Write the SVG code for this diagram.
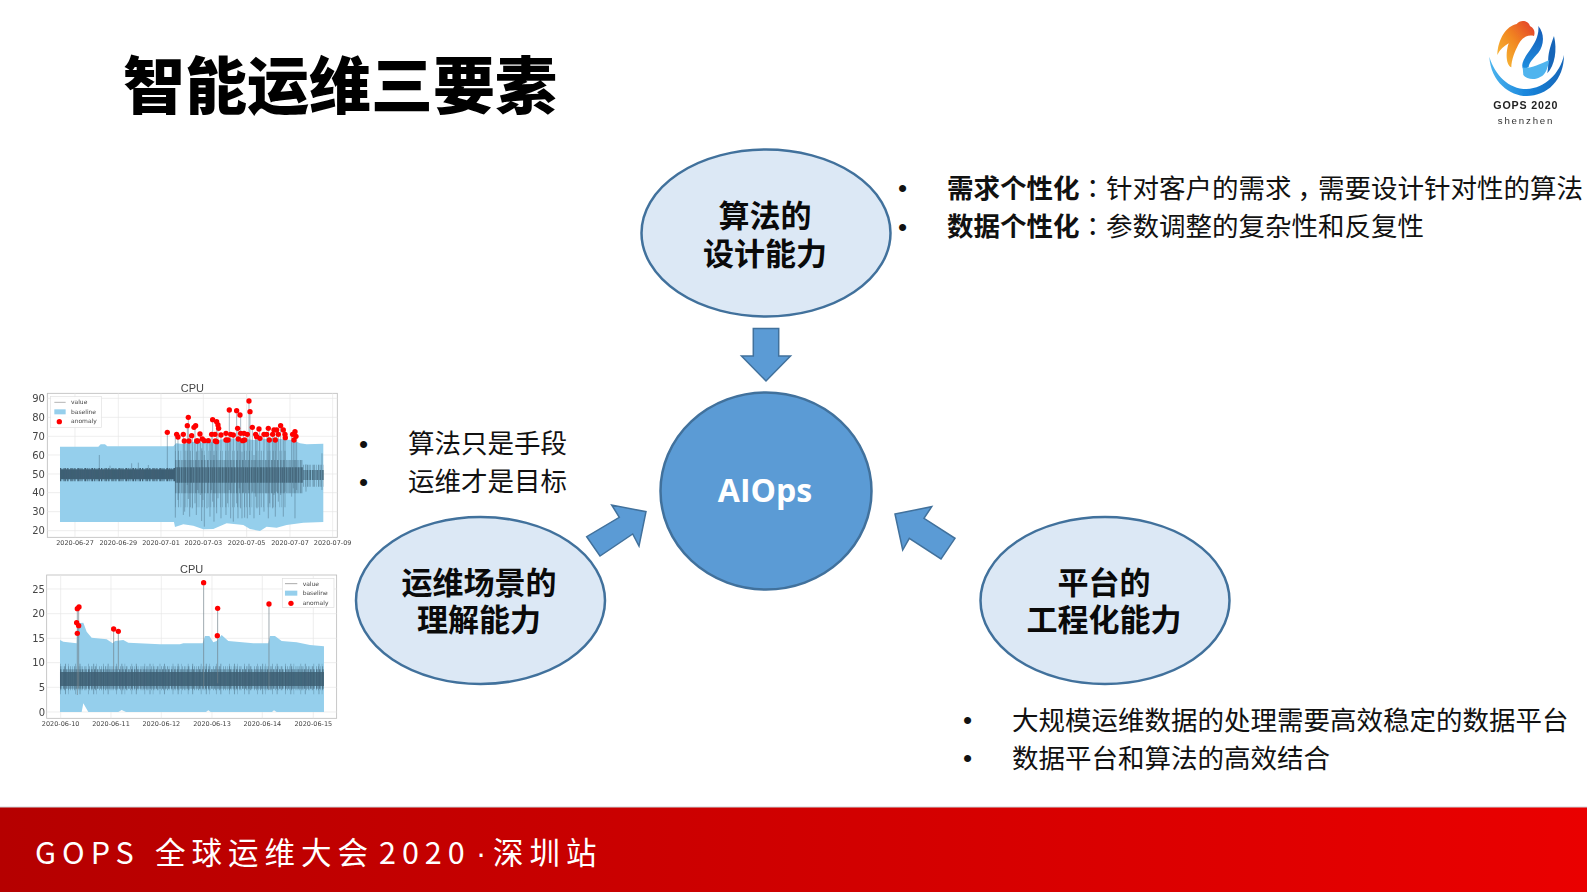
<svg xmlns="http://www.w3.org/2000/svg" width="1587" height="892" viewBox="0 0 1587 892">
<style>
text{font-family:"Noto Sans CJK SC","Noto Sans",sans-serif;fill:#111}
.b{font-size:26.5px}
.bu{font-size:26px;font-family:"Liberation Sans",sans-serif;fill:#111}
.n{font-size:31px;font-weight:700;text-anchor:middle;fill:#0a0a0a}
.tc{font-family:"Noto Sans CJK TC",sans-serif}
.el{fill:#dce8f5;stroke:#41719c;stroke-width:2.5}
.ar{fill:#5b9bd5;stroke:#41719c;stroke-width:1.5}
.grid{stroke:#e6e6e6;stroke-width:2;fill:none}
.fr{fill:#fff;stroke:#bdbdbd;stroke-width:2.5}
.band{fill:#95cfec}
.core{fill:none;stroke:#3f6074}
.v{stroke:#4a6b80;stroke-width:1.8;fill:none;opacity:.8}
.st{stroke:#6f7f88;stroke-width:2.5;fill:none;opacity:.8}
.c text{font-family:"Liberation Sans","DejaVu Sans",sans-serif;fill:#444}
.c .yt,.c .xt,.c .lg{font-family:"DejaVu Sans",sans-serif}
.yt{font-size:30px;text-anchor:end}
.xt{font-size:19.5px;text-anchor:middle}
.tt{font-size:33px;text-anchor:middle}
.lg{font-size:18px}
.dot{fill:#f00}
</style>
<defs>
<linearGradient id="bar" x1="0" x2="1" y1="0" y2="0"><stop offset="0" stop-color="#b50000"/><stop offset=".5" stop-color="#d00000"/><stop offset="1" stop-color="#ea0000"/></linearGradient>
<linearGradient id="lgb" x1="0" x2="1" y1="0" y2="0"><stop offset="0" stop-color="#4db5ee"/><stop offset=".5" stop-color="#1a86dc"/><stop offset="1" stop-color="#1565b8"/></linearGradient>
<linearGradient id="lgo" x1="0" x2="1" y1="1" y2="0"><stop offset="0" stop-color="#f8c23a"/><stop offset=".5" stop-color="#f28a22"/><stop offset="1" stop-color="#e23a2c"/></linearGradient>
<linearGradient id="lgs" x1="0" x2="0" y1="0" y2="1"><stop offset="0" stop-color="#1559b5"/><stop offset="1" stop-color="#1e8fe0"/></linearGradient>
<filter id="soft" x="-2%" y="-2%" width="104%" height="104%"><feGaussianBlur stdDeviation="2"/></filter>
</defs>

<rect width="1587" height="892" fill="#fff"/>

<text id="title" x="123" y="109" font-size="62" font-weight="900" style="fill:#000">智能运维三要素</text>

<g id="logo" transform="translate(1470 10) scale(.3333)" filter="url(#soft)">
<path d="M58 140C62 215 120 258 170 258C232 258 282 210 282 135C270 190 225 235 170 237C115 237 75 195 58 140Z" fill="url(#lgb)"/>
<path d="M82 135C84 85 110 48 140 42C150 28 175 30 180 48C195 55 195 70 192 78C172 72 155 85 146 102C134 125 124 150 124 172C108 165 106 130 116 100C102 108 90 118 82 135Z" fill="url(#lgo)"/>
<path d="M205 48C225 72 222 105 205 128C190 145 176 158 176 172L160 178C150 165 165 140 180 120C195 100 208 75 205 48Z" fill="url(#lgs)"/>
<path d="M252 78C262 120 255 165 232 190C240 150 225 150 252 78Z" fill="#1565b8"/>
<path d="M158 172C175 178 205 165 238 150C232 180 225 195 212 200C195 212 170 208 160 195Z" fill="#4fb4ee"/>
<text x="70" y="297" font-size="32" font-weight="700" letter-spacing="2.5" style="font-family:'Liberation Sans',sans-serif;fill:#222">GOPS 2020</text>
<text x="168" y="342" font-size="29" letter-spacing="5.5" text-anchor="middle" style="font-family:'Liberation Sans',sans-serif;fill:#333">shenzhen</text>
</g>

<g id="chart-top" class="c" transform="translate(20 375) scale(.3333)" filter="url(#soft)">
<rect class="fr" x="82" y="55" width="870" height="432"/>
<path class="grid" d="M165 55V487M295 55V487M423 55V487M550 55V487M680 55V487M810 55V487M938 55V487M82 70H952M82 127H952M82 184H952M82 240H952M82 297H952M82 353H952M82 410H952M82 467H952"/>
<path class="band" d="M120 215H235L242 208H255L262 214H460L468 205L490 207L520 200L560 204L610 192L660 190L700 195L760 190L820 196L840 205L860 208L910 206V441L850 443L800 450L770 458L740 455L720 468L690 462L670 450L620 445L580 462L550 463L520 452L490 448L465 456L462 441H120Z"/>
<path class="core" stroke-width="30" d="M120 298H465"/>
<path class="core" stroke-width="40" stroke-dasharray="3 2 1.5 4 2 1 4 3" d="M120 299H465"/>
<path class="v" d="M238 240V285M270 272V285M335 265V285M355 263V285M385 270V285M442 172V285"/>
<path class="core" stroke-width="46" stroke-dasharray="5 1 3 1 6 1.5" opacity=".85" d="M465 300H850"/>
<path class="core" stroke-width="100" stroke-dasharray="2.5 1.5 1.5 2.5 3.5 1 2 3" opacity=".6" d="M465 305H850"/>
<path class="core" stroke-width="170" stroke-dasharray="2 7 3 5 1.5 11 2 4" opacity=".4" d="M465 312H800"/>
<path class="core" stroke-width="30" stroke-dasharray="4 2 3 1" opacity=".8" d="M850 300H912"/>
<path class="core" stroke-width="66" stroke-dasharray="2 3 1.5 5 3 2" opacity=".6" d="M850 302H912"/>
<path class="v" d="M466 178V428M474 186V375M490 180V420M494 198V410M502 152V330M505 127V372M509 198V425M517 182V400M525 152V385M529 230V420M533 198V345M541 177V360M545 220V438M549 192V375M553 240V455M561 197V400M570 200V425M574 178V345M578 134V380M582 240V440M586 198V355M590 140V415M594 150V370M603 180V430M618 175V420M623 195V385M628 105V345M632 178V430M640 180V440M650 107V385M654 160V430M658 192V340M662 120V400M666 230V430M670 175V352M674 195V428M682 178V430M687 78V345M690 110V420M697 157V350M702 240V430M707 178V365M711 185V400M719 162V420M732 178V410M741 178V355M745 160V430M749 195V385M758 178V400M762 165V360M766 195V425M770 165V350M775 178V380M782 152V360M790 165V425M795 178V350M815 178V365M820 195V340M825 170V430M830 184V345M858 268V350M906 235V345"/>
<g class="dot"><circle cx="442" cy="172" r="8"/><circle cx="470" cy="178" r="8"/><circle cx="474" cy="186" r="8"/><circle cx="490" cy="178" r="8"/><circle cx="493" cy="198" r="8"/><circle cx="502" cy="152" r="8"/><circle cx="505" cy="127" r="8"/><circle cx="507" cy="198" r="8"/><circle cx="515" cy="182" r="8"/><circle cx="522" cy="157" r="8"/><circle cx="527" cy="152" r="8"/><circle cx="530" cy="198" r="8"/><circle cx="533" cy="198" r="8"/><circle cx="540" cy="177" r="8"/><circle cx="547" cy="192" r="8"/><circle cx="553" cy="197" r="8"/><circle cx="565" cy="197" r="8"/><circle cx="575" cy="178" r="8"/><circle cx="578" cy="134" r="8"/><circle cx="585" cy="178" r="8"/><circle cx="590" cy="140" r="8"/><circle cx="586" cy="198" r="8"/><circle cx="590" cy="200" r="8"/><circle cx="594" cy="150" r="8"/><circle cx="596" cy="160" r="8"/><circle cx="603" cy="180" r="8"/><circle cx="618" cy="175" r="8"/><circle cx="618" cy="195" r="8"/><circle cx="624" cy="195" r="8"/><circle cx="628" cy="105" r="8"/><circle cx="632" cy="178" r="8"/><circle cx="640" cy="180" r="8"/><circle cx="650" cy="107" r="8"/><circle cx="653" cy="160" r="8"/><circle cx="655" cy="192" r="8"/><circle cx="660" cy="120" r="8"/><circle cx="662" cy="175" r="8"/><circle cx="668" cy="197" r="8"/><circle cx="674" cy="195" r="8"/><circle cx="672" cy="175" r="8"/><circle cx="682" cy="178" r="8"/><circle cx="687" cy="78" r="8"/><circle cx="690" cy="110" r="8"/><circle cx="697" cy="157" r="8"/><circle cx="707" cy="178" r="8"/><circle cx="710" cy="185" r="8"/><circle cx="717" cy="162" r="8"/><circle cx="720" cy="190" r="8"/><circle cx="732" cy="178" r="8"/><circle cx="740" cy="178" r="8"/><circle cx="745" cy="160" r="8"/><circle cx="748" cy="195" r="8"/><circle cx="758" cy="178" r="8"/><circle cx="762" cy="165" r="8"/><circle cx="766" cy="195" r="8"/><circle cx="770" cy="165" r="8"/><circle cx="775" cy="178" r="8"/><circle cx="782" cy="152" r="8"/><circle cx="790" cy="165" r="8"/><circle cx="795" cy="178" r="8"/><circle cx="796" cy="188" r="8"/><circle cx="818" cy="178" r="8"/><circle cx="822" cy="195" r="8"/><circle cx="825" cy="170" r="8"/><circle cx="828" cy="184" r="8"/></g>
<rect x="92" y="65" width="153" height="93" fill="#fff" stroke="#ddd" stroke-width="2" opacity=".9"/>
<path d="M103 82H137" stroke="#b5b5b5" stroke-width="3"/><rect x="103" y="103" width="34" height="15" class="band"/><circle class="dot" cx="118" cy="140" r="8"/>
<text class="lg" x="153" y="88">value</text><text class="lg" x="153" y="116">baseline</text><text class="lg" x="153" y="145">anomaly</text>
<text class="tt" x="517" y="50">CPU</text>
<text class="yt" x="75" y="81">90</text><text class="yt" x="75" y="138">80</text><text class="yt" x="75" y="195">70</text><text class="yt" x="75" y="251">60</text><text class="yt" x="75" y="308">50</text><text class="yt" x="75" y="364">40</text><text class="yt" x="75" y="421">30</text><text class="yt" x="75" y="478">20</text>
<text class="xt" x="165" y="509">2020-06-27</text><text class="xt" x="295" y="509">2020-06-29</text><text class="xt" x="423" y="509">2020-07-01</text><text class="xt" x="550" y="509">2020-07-03</text><text class="xt" x="680" y="509">2020-07-05</text><text class="xt" x="810" y="509">2020-07-07</text><text class="xt" x="938" y="509">2020-07-09</text>
</g>

<g id="chart-bottom" class="c" transform="translate(20 555) scale(.3333)" filter="url(#soft)">
<rect class="fr" x="80" y="60" width="870" height="430"/>
<path class="grid" d="M122 60V490M273 60V490M424 60V490M576 60V490M727 60V490M880 60V490M80 102H950M80 176H950M80 250H950M80 323H950M80 397H950M80 471H950"/>
<path class="band" d="M120 255L130 260L170 265L172 205L190 203L200 230L215 248L260 253L278 265L285 258L310 255L325 263L420 268L480 268L490 265L548 265L555 243L568 243L580 262L590 258L605 240L625 258L700 265L745 265L750 243L765 243L785 258L830 262L870 270L912 274V471H770L762 466L756 471H572L565 466L558 471H318L305 465L295 471H205L190 445L185 471H120Z"/>
<path class="core" stroke-width="42" opacity=".85" d="M120 372H912"/>
<path class="core" stroke-width="58" stroke-dasharray="3 1.5 2 3 4 1 1.5 2.5" opacity=".7" d="M120 372H912"/>
<path class="core" stroke-width="72" stroke-dasharray="2 3 1.5 5 3 2.5 1 7 2 4" opacity=".55" d="M120 370H912"/>
<path class="core" stroke-width="92" stroke-dasharray="2 13 3 7 1.5 19 2 11 3 23" opacity=".45" d="M120 372H912"/>
<path class="st" d="M172 161V420M176 156V400M281 222V345M295 229V345M551 83V400M593 160V385M747 147V405"/>
<g class="dot"><circle cx="172" cy="235" r="8"/><circle cx="170" cy="203" r="8"/><circle cx="176" cy="212" r="8"/><circle cx="172" cy="161" r="8"/><circle cx="177" cy="156" r="8"/><circle cx="281" cy="222" r="8"/><circle cx="295" cy="229" r="8"/><circle cx="551" cy="83" r="8"/><circle cx="593" cy="160" r="8"/><circle cx="592" cy="242" r="8"/><circle cx="747" cy="147" r="8"/></g>
<rect x="787" y="70" width="155" height="88" fill="#fff" stroke="#ddd" stroke-width="2"/>
<path d="M795 86H832" stroke="#aaa" stroke-width="3"/><rect x="795" y="107" width="37" height="15" class="band"/><circle class="dot" cx="813" cy="145" r="8"/>
<text class="lg" x="848" y="92">value</text><text class="lg" x="848" y="120">baseline</text><text class="lg" x="848" y="150">anomaly</text>
<text class="tt" x="515" y="55">CPU</text>
<text class="yt" x="75" y="113">25</text><text class="yt" x="75" y="187">20</text><text class="yt" x="75" y="261">15</text><text class="yt" x="75" y="334">10</text><text class="yt" x="75" y="408">5</text><text class="yt" x="75" y="482">0</text>
<text class="xt" x="122" y="512">2020-06-10</text><text class="xt" x="273" y="512">2020-06-11</text><text class="xt" x="424" y="512">2020-06-12</text><text class="xt" x="576" y="512">2020-06-13</text><text class="xt" x="727" y="512">2020-06-14</text><text class="xt" x="880" y="512">2020-06-15</text>
</g>

<g id="connectors">
<path class="ar" d="M753.3 328.5H778.7V356H790.5L766 381L741.5 356H753.3Z"/>
<path class="ar" d="M586.7 536.7L600 556L632.7 534L639 546L646 511.7L611.7 505L619.3 517.3Z"/>
<path class="ar" d="M895 514L931.7 506.7L924 518.3L955 538.3L941 559L909.3 538.3L902.7 550Z"/>
</g>

<g id="node-algo"><ellipse class="el" cx="766" cy="233" rx="124.5" ry="83.5"/><text class="n"><tspan x="765" y="227">算法的</tspan><tspan x="765" y="265">设计能力</tspan></text></g>
<g id="node-scene"><ellipse class="el" cx="480.5" cy="600.5" rx="124.5" ry="83.5"/><text class="n"><tspan x="479" y="594">运维场景的</tspan><tspan x="479" y="631">理解能力</tspan></text></g>
<g id="node-platform"><ellipse class="el" cx="1105" cy="600.5" rx="124.5" ry="83.5"/><text class="n"><tspan x="1104" y="594">平台的</tspan><tspan x="1104" y="631">工程化能力</tspan></text></g>
<g id="node-aiops"><ellipse cx="766" cy="491" rx="105.5" ry="98.5" fill="#5b9bd5" stroke="#41719c" stroke-width="2.5"/><text x="765" y="502" font-size="32" font-weight="700" text-anchor="middle" style="font-family:'Open Sans',sans-serif;fill:#fff">AIOps</text></g>

<g id="bullets-algo">
<text class="bu" x="898" y="197">•</text><text class="bu" x="898" y="236">•</text>
<text class="b" x="947" y="198"><tspan font-weight="700">需求个性化</tspan><tspan class="tc">：</tspan>针对客户的需求<tspan dx="6" letter-spacing="-6">，</tspan>需要设计针对性的算法</text>
<text class="b" x="947" y="236"><tspan font-weight="700">数据个性化</tspan><tspan class="tc">：</tspan>参数调整的复杂性和反复性</text>
</g>
<g id="bullets-scene">
<text class="bu" x="359" y="453">•</text><text class="bu" x="359" y="491">•</text>
<text class="b" x="408" y="453">算法只是手段</text><text class="b" x="408" y="491">运维才是目标</text>
</g>
<g id="bullets-platform">
<text class="bu" x="963" y="729">•</text><text class="bu" x="963" y="767">•</text>
<text class="b" x="1012" y="730">大规模运维数据的处理需要高效稳定的数据平台</text><text class="b" x="1012" y="768">数据平台和算法的高效结合</text>
</g>

<g id="footer">
<rect y="807" width="1587" height="85" fill="url(#bar)"/>
<path d="M0 807H1587" stroke="#cfd8dc" stroke-width="1"/>
<text y="864" font-size="30.5" letter-spacing="6" style="fill:#fff"><tspan x="35">GOPS</tspan><tspan x="155">全球运维大会</tspan><tspan x="379">2020</tspan><tspan x="476" style="font-family:'Liberation Sans',sans-serif">·</tspan><tspan x="493">深圳站</tspan></text>
</g>
</svg>
